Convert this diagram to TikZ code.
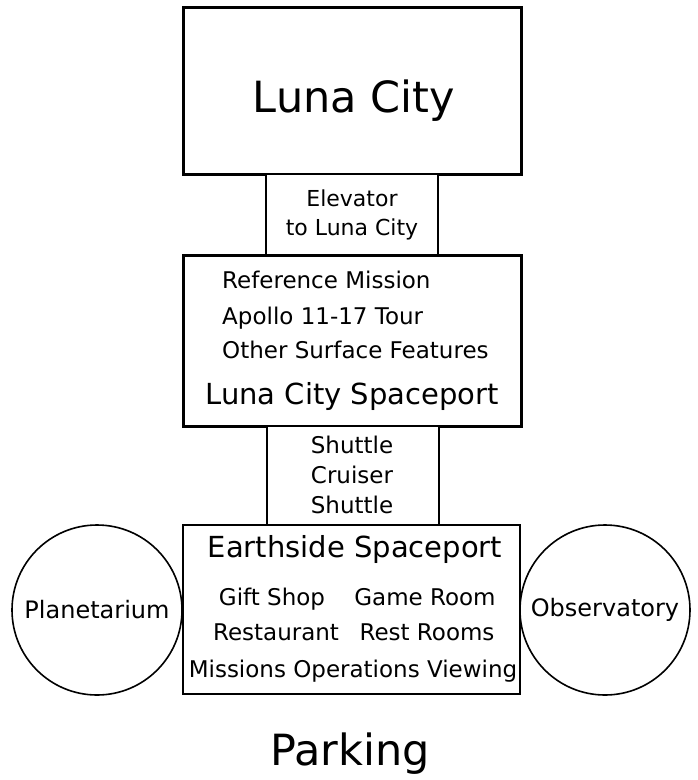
\documentclass[tikz,border=0pt]{standalone}
\usepackage{fontspec}
\setmainfont{DejaVu Sans}
\usetikzlibrary{positioning}

\begin{document}
\begin{tikzpicture}[
  x=1pt, y=-1pt,
  every node/.style={font=\fontsize{23}{27}\selectfont, inner sep=0pt},
  txt/.style={anchor=base},
  box/.style={rectangle, draw, line width=2pt, fill=white},
  bigbox/.style={box, line width=3pt, minimum width=338pt},
  tube/.style={box, minimum width=172pt},
  dome/.style={circle, draw, line width=1.6pt, minimum size=170pt,
    font=\fontsize{24}{28}\selectfont},
  title/.style={txt, font=\fontsize{43}{50}\selectfont},
  sub/.style={txt, font=\fontsize{29}{34}\selectfont},
]
\useasboundingbox (0,0) rectangle (698,780);

% stacked boxes
\node[bigbox, minimum height=167pt] (luna)  at (352,90.5)  {};
\node[tube, minimum height=81pt]    (elev)  at (351.5,214.5) {};
\node[bigbox, minimum height=171pt] (lcsp)  at (352,340.5) {};
\node[tube, minimum height=99pt]    (shut)  at (352.5,475.5) {};
\node[box, minimum width=337pt, minimum height=169pt] (earth) at (351.5,609.5) {};

% side domes
\node[dome] (plan) at (97,610)  {Planetarium};
\node[dome] (obs)  at (605,610) {Observatory};

% labels
\node[title] (lunaname) at (354,112) {Luna City};
\node[txt, font=\fontsize{22}{26}\selectfont] (elev1) at (352,206) {Elevator};
\node[txt, font=\fontsize{22}{26}\selectfont] (elev2) at (352,235) {to Luna City};

\node[txt, anchor=base west] (ref)    at (222,288) {Reference Mission};
\node[txt, anchor=base west] (apollo) at (222,324) {Apollo 11-17 Tour};
\node[txt, anchor=base west] (other)  at (222,358) {Other Surface Features};
\node[sub] (lcspname) at (352,404) {Luna City Spaceport};

\node[txt] (shut1) at (352,453) {Shuttle};
\node[txt] (shut2) at (352,483) {Cruiser};
\node[txt] (shut3) at (352,513) {Shuttle};

\node[sub] (earthname) at (355,557) {Earthside Spaceport};
\node[txt] (gift)  at (272,605) {Gift Shop};
\node[txt] (game)  at (425,605) {Game Room};
\node[txt] (rest)  at (276,640) {Restaurant};
\node[txt] (rooms) at (427,640) {Rest Rooms};
\node[txt] (viewing) at (353,677) {Missions Operations Viewing};

\node[title] (parking) at (350,765) {Parking};
\end{tikzpicture}
\end{document}
